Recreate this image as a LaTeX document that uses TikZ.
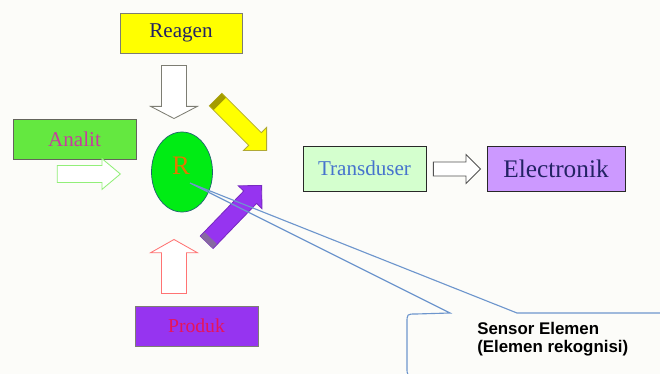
\documentclass[tikz,border=0pt]{standalone}
\usepackage{fontspec}
\setmainfont{Liberation Serif}
\setsansfont{Liberation Sans}
\usetikzlibrary{shapes.arrows,shapes.geometric}
\definecolor{figPaper}{RGB}{252,252,249}
\definecolor{figYellow}{RGB}{255,255,0}
\definecolor{figGreen}{RGB}{100,232,64}
\definecolor{figLime}{RGB}{0,236,20}
\definecolor{figPurple}{RGB}{150,52,240}
\definecolor{figLilac}{RGB}{204,153,255}
\definecolor{figMint}{RGB}{212,255,206}
\definecolor{figBorder}{RGB}{125,125,115}
\definecolor{figDark}{RGB}{40,40,40}
\definecolor{figNavy}{RGB}{35,35,100}
\definecolor{figMagenta}{RGB}{200,60,160}
\definecolor{figRed}{RGB}{230,20,90}
\definecolor{figBlue}{RGB}{70,115,205}
\definecolor{figOrange}{RGB}{225,120,0}
\definecolor{figTeal}{RGB}{30,100,110}
\definecolor{figCallout}{RGB}{110,150,205}

\begin{document}
\begin{tikzpicture}[
  x=0.025cm,
  y=-0.025cm,
  box/.style={draw=figBorder, line width=0.6pt, minimum width=3.075cm, minimum height=1.0cm, inner sep=0pt, font=\fontsize{15}{18}\selectfont},
  hollow/.style n args={4}{single arrow, draw, fill=white, line width=0.6pt, anchor=tip, inner xsep=0pt, inner ysep=#1/2, single arrow head extend=(#2-#1)/2, minimum width=#2, minimum height=#3, single arrow tip angle=#4},
  band/.style={draw=none, minimum width=0.15cm, inner sep=0pt, anchor=west},
  callout/.style={draw=figCallout, line width=0.8pt}
]
\useasboundingbox (0,0) rectangle (660,374);
\clip (0,0) rectangle (660,374);
\fill[figPaper] (0,0) rectangle (660,374);

% input boxes
\node[box, fill=figYellow, text=figNavy, minimum width=3.05cm] (reagen) at (181,33) {Reagen};
\node[box, fill=figGreen, draw=figBorder!80!black, text=figMagenta] (analit) at (74.5,139.5) {Analit};
\node[box, fill=figPurple, text=figRed, font=\fontsize{14}{17}\selectfont] (produk) at (196.5,326) {Produk};

% recognition element
\node[ellipse, draw=figTeal, line width=0.5pt, fill=figLime, minimum width=1.525cm, minimum height=2cm, inner sep=0pt] (recog) at (182,172) {};
\node[text=figOrange, inner sep=0pt, font=\fontsize{19}{22}\selectfont] (rLabel) at (181,166) {R};

% hollow arrows
\node[hollow={0.6cm}{1.15cm}{1.325cm}{125}, draw=figBorder, rotate=-90] (reagenArrow) at (174,119) {};
\node[hollow={0.4cm}{0.75cm}{1.575cm}{80}, draw=figGreen!70!white] (analitArrow) at (121,174) {};
\node[hollow={0.6cm}{1.15cm}{1.35cm}{121}, draw=red!55!white, rotate=90] (produkArrow) at (174,239) {};

% output chain
\node[box, fill=figMint, draw=figDark, text=figBlue, minimum height=1.125cm] (trans) at (364.5,168.5) {Transduser};
\node[box, fill=figLilac, draw=figDark, text=figNavy, minimum width=3.45cm, minimum height=1.125cm, font=\fontsize{18}{21}\selectfont] (elec) at (556,168.5) {Electronik};
\node[hollow={0.325cm}{0.7cm}{1.175cm}{90}, draw=figDark!80!white] (transArrow) at (481,169) {};

% filled signal arrows
\node[hollow={0.425cm}{0.8cm}{1.8cm}{90}, fill=figYellow, draw=olive!70!white, rotate=-45] (yellowArrow) at (267,151) {};
\node[band, fill=olive!80!yellow, minimum height=0.425cm, rotate=-45] (yellowCap) at (yellowArrow.tail) {};
\node[hollow={0.425cm}{0.8cm}{1.975cm}{90}, fill=figPurple, draw=figPurple!80!black, rotate=46] (purpleArrow) at (262,185) {};
\node[band, fill=gray!70!figPurple, minimum height=0.425cm, rotate=46] (purpleCap) at (purpleArrow.tail) {};

% callout
\coordinate (tipR) at (190,183);
\draw[callout] (450,313) -- (tipR) -- (517,313) -- (700,313) -- (700,376) -- (416,376)
  .. controls (407,376) .. (407,367) -- (407,323) .. controls (407,314) .. (416,314) -- cycle;
\node[anchor=north west, align=left, inner sep=0pt, font=\sffamily\bfseries\fontsize{12}{12.5}\selectfont] (sensorText) at (477,322)
{Sensor Elemen\\ (Elemen rekognisi)};
\end{tikzpicture}
\end{document}
